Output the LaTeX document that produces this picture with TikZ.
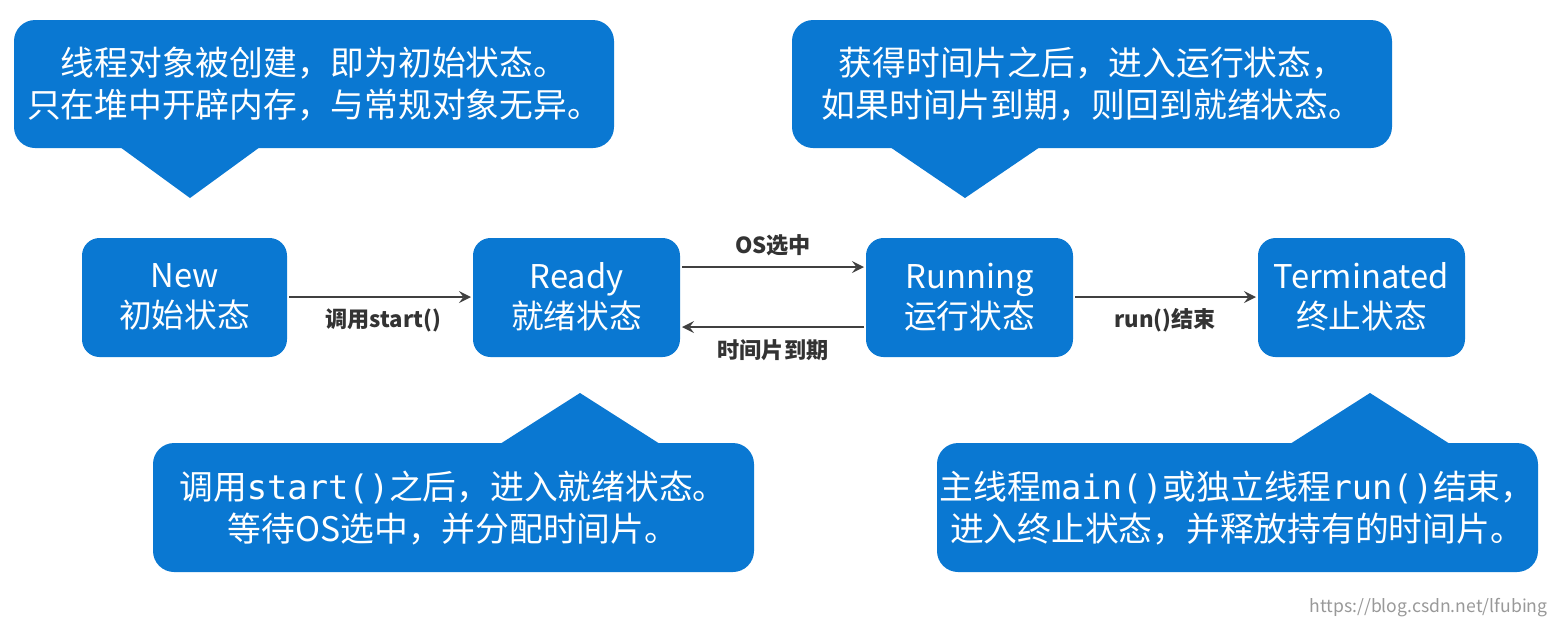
\documentclass[tikz,border=0pt]{standalone}
\usepackage{fontspec}
\setmainfont{Noto Sans CJK SC}
\newfontfamily\monof{DejaVu Sans Mono}
\definecolor{bl}{HTML}{0A78D2}
\begin{document}
\begin{tikzpicture}[x=0.01cm,y=-0.01cm,
 ct/.style={text=white,align=center,font=\fontsize{9.6}{11.7}\selectfont},
 sn/.style={text=white,align=center,font=\fontsize{9.3}{11.4}\selectfont},
 ar/.style={draw=black!75,line width=0.5pt,-stealth},
 lb/.style={font=\bfseries\fontsize{6.3}{7}\selectfont,text=black!80}]
\fill[white] (0,0) rectangle (1565,626);
\useasboundingbox (0,0) rectangle (1565,626);
% callouts
\fill[bl,rounded corners=6pt] (14,20) rectangle (614,148);
\fill[bl] (120,147) -- (190,198) -- (260,147) -- cycle;
\node[ct] (c1) at (314,84) {线程对象被创建，即为初始状态。\\只在堆中开辟内存，与常规对象无异。};
\fill[bl,rounded corners=6pt] (792,20) rectangle (1392,148);
\fill[bl] (890,147) -- (965,198) -- (1040,147) -- cycle;
\node[ct] (c2) at (1092,84) {获得时间片之后，进入运行状态，\\如果时间片到期，则回到就绪状态。};
\fill[bl,rounded corners=6pt] (153,443) rectangle (754,572);
\fill[bl] (500,444) -- (580,393) -- (660,444) -- cycle;
\node[ct] (c3) at (453,508) {调用{\monof start()}之后，进入就绪状态。\\等待OS选中，并分配时间片。};
\fill[bl,rounded corners=6pt] (937,443) rectangle (1538,572);
\fill[bl] (1290,444) -- (1370,393) -- (1450,444) -- cycle;
\node[ct] (c4) at (1237,508) {主线程{\monof main()}或独立线程{\monof run()}结束，\\进入终止状态，并释放持有的时间片。};
% states
\fill[bl,rounded corners=5pt] (82,238) rectangle (287,357);
\node[sn] (new) at (184.5,297) {New\\初始状态};
\fill[bl,rounded corners=5pt] (473,238) rectangle (680,357);
\node[sn] (ready) at (576.5,297) {Ready\\就绪状态};
\fill[bl,rounded corners=5pt] (866,238) rectangle (1073,357);
\node[sn] (run) at (969.5,297) {Running\\运行状态};
\fill[bl,rounded corners=5pt] (1258,238) rectangle (1465,357);
\node[sn] (term) at (1361.5,297) {Terminated\\终止状态};
\coordinate (a1) at (289,297); \coordinate (a2) at (471,297);
\coordinate (b1) at (682,267); \coordinate (b2) at (864,267);
\coordinate (d1) at (864,327); \coordinate (d2) at (682,327);
\coordinate (e1) at (1075,297); \coordinate (e2) at (1256,297);
\draw[ar] (a1) -- (a2); \draw[ar] (b1) -- (b2); \draw[ar] (d1) -- (d2); \draw[ar] (e1) -- (e2);
\node[lb] at (383,320) {调用start()};
\node[lb] at (773,245) {OS选中};
\node[lb] at (773,350) {时间片到期};
\node[lb] at (1165,320) {run()结束};
\node[text=black!40,font=\fontsize{5}{6}\selectfont,anchor=east] at (1560,608) {https://blog.csdn.net/lfubing};
\end{tikzpicture}
\end{document}
